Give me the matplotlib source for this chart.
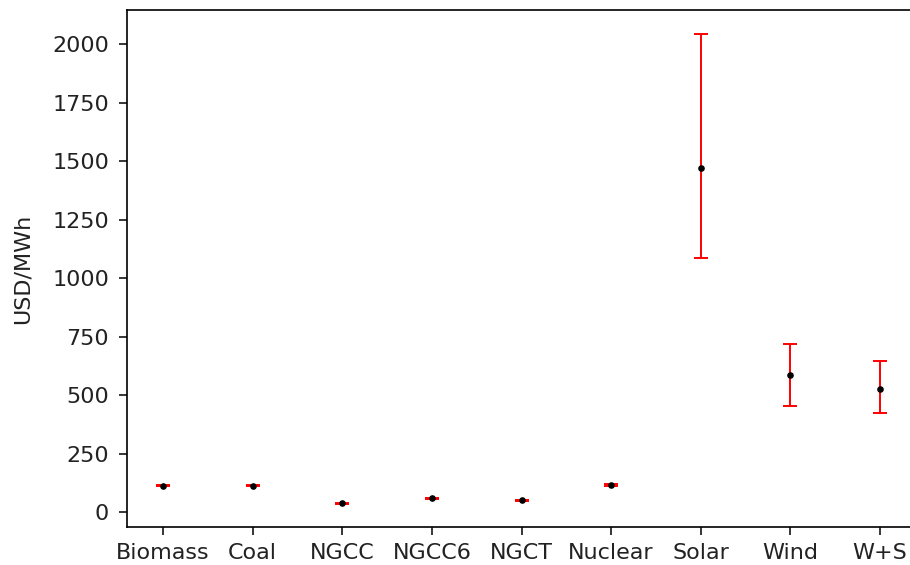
import matplotlib
matplotlib.use("Agg")
import matplotlib.pyplot as plt
import numpy as np

categories = ["Biomass", "Coal", "NGCC", "NGCC6", "NGCT", "Nuclear", "Solar", "Wind", "W+S"]
means = [112, 112, 39, 60, 51, 116, 1472, 588, 528]
lower = [110, 110, 37, 58, 49, 113, 1086, 455, 425]
upper = [114, 114, 41, 62, 53, 119, 2047, 717, 648]

means_a = np.array(means)
yerr = np.array([means_a - np.array(lower), np.array(upper) - means_a])

fig = plt.figure(figsize=(9.1, 5.65), dpi=100)
ax = fig.add_axes([127/910, 38/565, 789/910, 517/565])
x = np.arange(len(categories))
ax.errorbar(x, means, yerr=yerr, fmt='k.', ecolor='red', capsize=5,
            elinewidth=1.4, capthick=1.4, markersize=7.5)
ax.set_xticks(x)
ax.set_xticklabels(categories)
ax.set_yticks([0, 250, 500, 750, 1000, 1250, 1500, 1750, 2000])
ax.tick_params(labelsize=16, length=5.5, width=1.1, labelcolor='#222222')
ax.tick_params(axis='y', pad=7.5)
ax.tick_params(axis='x', pad=6)
for s in ax.spines.values():
    s.set_linewidth(1.2)
ax.set_ylabel("USD/MWh", fontsize=16, labelpad=14, color='#222222')
fig.savefig("out.png", dpi=100)
